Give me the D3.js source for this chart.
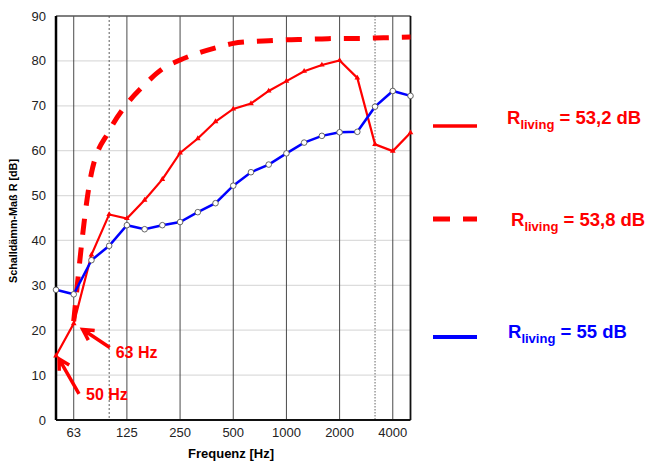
<!DOCTYPE html>
<html>
<head>
<meta charset="utf-8">
<script src="https://cdn.jsdelivr.net/npm/d3@7/dist/d3.min.js"></script>
<style>
  body { margin: 0; background: #fff; }
  text { font-family: "Liberation Sans", Arial, sans-serif; }
</style>
</head>
<body>
<div id="chart"></div>
<script>
// third-octave bands 50 Hz .. 5000 Hz
const bands = ['50','63','80','100','125','160','200','250','315','400','500',
  '630','800','1000','1250','1600','2000','2500','3150','4000','5000'];
const tickBands = ['63','125','250','500','1000','2000','4000'];
const dottedBands = ['100','3150'];
const yTicks = [0,10,20,30,40,50,60,70,80,90];

// measured curves (dB)
const redMeasured = [14.3,21.5,36.8,45.8,44.9,49.0,53.6,59.5,62.7,66.5,69.3,
  70.5,73.3,75.5,77.7,79.1,80.1,76.2,61.4,59.9,64.0];
const blueMeasured = [29.0,28.0,35.6,38.8,43.4,42.5,43.4,44.1,46.3,48.3,52.2,
  55.2,56.9,59.4,61.8,63.3,64.1,64.2,69.8,73.3,72.2];
// dashed curve starts at 63 Hz
const redReference = [null,22.0,55.0,64.4,70.4,74.7,78.2,80.2,81.7,82.9,83.9,
  84.3,84.5,84.7,84.8,84.9,85.0,85.0,85.1,85.2,85.3];

const legendLabels = ['53,2 dB','53,8 dB','55 dB'];
const annotations = [
  {band:'63', value:21.5, label:'63 Hz'},
  {band:'50', value:14.3, label:'50 Hz'}
];

const width = 646, height = 461;
const plotLeft = 56, plotRight = 410.5, plotTop = 16, plotBottom = 420;

const svg = d3.select('#chart').append('svg')
  .attr('width', width)
  .attr('height', height);

const x = d3.scalePoint().domain(bands).range([plotLeft, plotRight]);
const y = d3.scaleLinear().domain([0, 90]).range([plotBottom, plotTop]);

// horizontal grid
svg.append('g')
  .selectAll('line')
  .data(yTicks.slice(1, -1))
  .join('line')
    .attr('x1', plotLeft).attr('x2', plotRight)
    .attr('y1', d => y(d)).attr('y2', d => y(d))
    .attr('stroke', '#dcdcdc')
    .attr('stroke-width', 1.2);

// vertical grid
svg.append('g')
  .selectAll('line')
  .data(tickBands)
  .join('line')
    .attr('x1', d => x(d)).attr('x2', d => x(d))
    .attr('y1', plotTop).attr('y2', plotBottom)
    .attr('stroke', '#4a4a4a')
    .attr('stroke-width', 1);

svg.append('g')
  .selectAll('line')
  .data(dottedBands)
  .join('line')
    .attr('x1', d => x(d)).attr('x2', d => x(d))
    .attr('y1', plotTop).attr('y2', plotBottom)
    .attr('stroke', (d, i) => i == 0 ? '#333' : '#999')
    .attr('stroke-width', (d, i) => i == 0 ? 0.8 : 1.5)
    .attr('stroke-dasharray', (d, i) => i == 0 ? '2,2' : '1.5,1.5');

// frame
svg.append('line').attr('x1', plotLeft).attr('x2', plotRight).attr('y1', plotTop).attr('y2', plotTop)
  .attr('stroke', '#555').attr('stroke-width', 1.5);
svg.append('line').attr('x1', plotRight).attr('x2', plotRight).attr('y1', plotTop).attr('y2', plotBottom)
  .attr('stroke', '#111').attr('stroke-width', 1.8);
svg.append('line').attr('x1', plotLeft).attr('x2', plotRight).attr('y1', plotBottom).attr('y2', plotBottom)
  .attr('stroke', '#111').attr('stroke-width', 2);
svg.append('line').attr('x1', plotLeft).attr('x2', plotLeft).attr('y1', plotTop).attr('y2', plotBottom)
  .attr('stroke', '#000').attr('stroke-width', 2.5);

// tick labels
svg.append('g')
  .selectAll('text')
  .data(yTicks)
  .join('text')
    .attr('x', 46)
    .attr('y', d => y(d))
    .attr('dy', '0.35em')
    .attr('text-anchor', 'end')
    .attr('font-size', 13)
    .attr('fill', '#222')
    .text(d => d);

svg.append('g')
  .selectAll('text')
  .data(tickBands)
  .join('text')
    .attr('x', d => x(d))
    .attr('y', 437)
    .attr('text-anchor', 'middle')
    .attr('font-size', 13)
    .attr('fill', '#222')
    .text(d => d);

// axis titles
svg.append('text')
  .attr('transform', 'translate(17,221) rotate(-90)')
  .attr('text-anchor', 'middle')
  .attr('font-size', 11)
  .attr('font-weight', 'bold')
  .attr('textLength', 124)
  .attr('lengthAdjust', 'spacingAndGlyphs')
  .text('Schalldämm-Maß R [dB]');

svg.append('text')
  .attr('x', 231)
  .attr('y', 458)
  .attr('text-anchor', 'middle')
  .attr('font-size', 13)
  .attr('font-weight', 'bold')
  .text('Frequenz [Hz]');

// curves
const line = d3.line()
  .defined(d => d != null)
  .x((d, i) => x(bands[i]))
  .y(d => y(d));

svg.append('path')
  .datum(redReference)
  .attr('fill', 'none')
  .attr('stroke', '#ff0000')
  .attr('stroke-width', 5)
  .attr('stroke-dasharray', '16,13')
  .attr('d', line.curve(d3.curveMonotoneX));

line.curve(d3.curveLinear);

svg.append('path')
  .datum(redMeasured)
  .attr('fill', 'none')
  .attr('stroke', '#ff0000')
  .attr('stroke-width', 2.2)
  .attr('d', line);

svg.append('g')
  .selectAll('path')
  .data(redMeasured)
  .join('path')
    .attr('transform', (d, i) => `translate(${x(bands[i])},${y(d)})`)
    .attr('d', d3.symbol(d3.symbolTriangle, 14))
    .attr('fill', '#ff0000');

svg.append('path')
  .datum(blueMeasured)
  .attr('fill', 'none')
  .attr('stroke', '#0000ff')
  .attr('stroke-width', 2.5)
  .attr('d', line);

svg.append('g')
  .selectAll('circle')
  .data(blueMeasured)
  .join('circle')
    .attr('cx', (d, i) => x(bands[i]))
    .attr('cy', d => y(d))
    .attr('r', 2.8)
    .attr('fill', '#fff')
    .attr('stroke', '#555')
    .attr('stroke-width', 0.9);

// annotation arrows
function arrow(x1, y1, x2, y2) {
  const a = Math.atan2(y2 - y1, x2 - x1);
  const len = 12, spread = 0.5;
  const p = d3.path();
  p.moveTo(x1, y1); p.lineTo(x2, y2);
  p.moveTo(x2 - len * Math.cos(a - spread), y2 - len * Math.sin(a - spread));
  p.lineTo(x2, y2);
  p.lineTo(x2 - len * Math.cos(a + spread), y2 - len * Math.sin(a + spread));
  svg.append('path')
    .attr('d', p.toString())
    .attr('fill', 'none')
    .attr('stroke', '#ff0000')
    .attr('stroke-width', 3.5);
}

const a63 = annotations[0], a50 = annotations[1];
arrow(x(a63.band) + 36, y(a63.value) + 24, x(a63.band) + 9, y(a63.value) + 6);
svg.append('text')
  .attr('x', x(a63.band) + 42).attr('y', y(a63.value) + 35)
  .attr('font-size', 16).attr('font-weight', 'bold').attr('fill', '#ff0000')
  .text(a63.label);

arrow(x(a50.band) + 23, y(a50.value) + 38, x(a50.band) + 3, y(a50.value) + 3);
svg.append('text')
  .attr('x', x(a50.band) + 30).attr('y', y(a50.value) + 44)
  .attr('font-size', 16).attr('font-weight', 'bold').attr('fill', '#ff0000')
  .text(a50.label);

// legend
const legendRows = [
  {ly: 126, ty: 124, tx: 507, color: '#ff0000', dash: null, w: 3.5},
  {ly: 219, ty: 226, tx: 511, color: '#ff0000', dash: '17,13', w: 5},
  {ly: 337, ty: 338, tx: 508, color: '#0000ff', dash: null, w: 4}
];

legendRows.forEach((r, i) => {
  svg.append('line')
    .attr('x1', 433).attr('x2', 477)
    .attr('y1', r.ly).attr('y2', r.ly)
    .attr('stroke', r.color)
    .attr('stroke-width', r.w)
    .attr('stroke-dasharray', r.dash);
  const t = svg.append('text')
    .attr('x', r.tx).attr('y', r.ty)
    .attr('font-size', 18.5).attr('font-weight', 'bold')
    .attr('fill', r.color);
  t.append('tspan').text('R');
  t.append('tspan').attr('dy', 5).attr('font-size', 13).text('living');
  t.append('tspan').attr('dy', -5).text(' = ' + legendLabels[i]);
});
</script>
</body>
</html>
